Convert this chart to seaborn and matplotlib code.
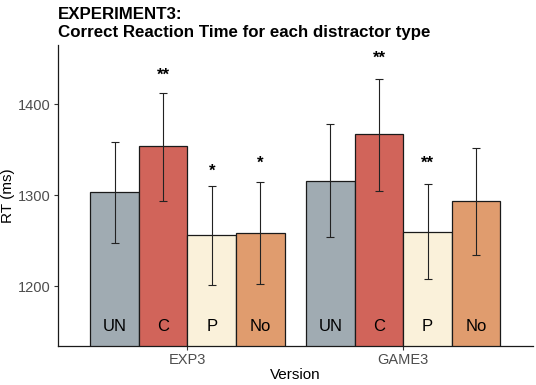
#%%
# imports
import numpy as np
import pandas as pd
import matplotlib
matplotlib.use('Agg')
import matplotlib.pyplot as plt
import seaborn as sns

#%%
# data
versions = ['EXP3', 'GAME3']
types = ['UN', 'C', 'P', 'No']
rt_exp3 = [1303, 1354, 1256, 1258]
rt_game3 = [1316, 1367, 1260, 1293]
lo_exp3 = [1247, 1294, 1201, 1202]
hi_exp3 = [1358, 1412, 1310, 1314]
lo_game3 = [1254, 1305, 1208, 1234]
hi_game3 = [1378, 1428, 1312, 1352]
stars_exp3 = ['', '**', '*', '*']
stars_game3 = ['', '**', '**', '']
star_y_exp3 = [np.nan, 1432, 1326, 1335]
star_y_game3 = [np.nan, 1450, 1335, np.nan]
label_y = 1156
colors = ['#A0ABB2', '#D1645A', '#FAF1DA', '#E09C6E']

df = pd.DataFrame({
    'Version': np.repeat(versions, len(types)),
    'type': types * len(versions),
    'rt': rt_exp3 + rt_game3,
    'lo': lo_exp3 + lo_game3,
    'hi': hi_exp3 + hi_game3,
    'star': stars_exp3 + stars_game3,
    'star_y': star_y_exp3 + star_y_game3,
})

#%%
# plot
sns.set_style('white')
plt.rcParams['font.family'] = ['Liberation Sans', 'DejaVu Sans']
plt.rcParams['text.color'] = 'black'

fig = plt.figure(figsize=(5.36, 3.85), dpi=100)
ax = fig.add_axes([0.108, 0.101, 0.886, 0.782])

sns.barplot(data=df, x='Version', y='rt', hue='type', hue_order=types,
            palette=colors, width=0.9, gap=0, errorbar=None,
            edgecolor='#1a1a1a', linewidth=0.9, saturation=1,
            legend=False, ax=ax)

# bar centres come from the patches seaborn drew (hue order, then version)
centres = {}
for k, p in enumerate(ax.patches[:len(df)]):
    t = types[k // len(versions)]
    v = versions[k % len(versions)]
    centres[(v, t)] = p.get_x() + p.get_width() / 2

for _, row in df.iterrows():
    xc = centres[(row['Version'], row['type'])]
    ax.errorbar(xc, row['rt'],
                yerr=[[row['rt'] - row['lo']], [row['hi'] - row['rt']]],
                fmt='none', ecolor='#222222', elinewidth=0.8, capsize=2.6,
                capthick=0.8)
    ax.text(xc, label_y, row['type'], ha='center', va='center', fontsize=12,
            color='black')
    if row['star']:
        ax.text(xc, row['star_y'], row['star'], ha='center', va='center',
                fontsize=12, fontweight='bold', color='black')

ax.set_ylim(1134, 1465)
ax.set_xlim(-0.6, 1.6)
ax.set_yticks([1200, 1300, 1400])
ax.set_xlabel('Version', fontsize=11, color='black', labelpad=1)
ax.set_ylabel('RT (ms)', fontsize=11, color='black')
ax.yaxis.set_label_coords(-0.09, 0.5)
ax.tick_params(axis='both', which='both', length=3, width=0.8, color='#333333',
               labelcolor='#4D4D4D', labelsize=10.5, pad=2, left=True, bottom=True)
ax.spines['right'].set_visible(False)
ax.spines['top'].set_visible(False)
ax.spines['left'].set_color('#1a1a1a')
ax.spines['bottom'].set_color('#1a1a1a')
ax.spines['left'].set_linewidth(0.9)
ax.spines['bottom'].set_linewidth(0.9)
ax.grid(False)

fig.text(0.108, 0.983, 'EXPERIMENT3:\nCorrect Reaction Time for each distractor type',
         ha='left', va='top', fontsize=12.2, fontweight='bold', linespacing=1.3,
         color='black')

plt.savefig('out.png', dpi=100)
